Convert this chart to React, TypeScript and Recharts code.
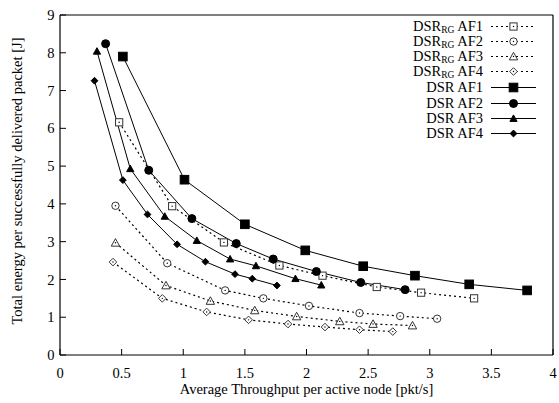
import React from "react";
import { LineChart, Line, XAxis, YAxis } from "recharts";

type Pair = [number, number];
type Shape = "square" | "circle" | "triangle" | "diamond";

const xTicks = [0, 0.5, 1, 1.5, 2, 2.5, 3, 3.5, 4];
const yTicks = [0, 1, 2, 3, 4, 5, 6, 7, 8, 9];

// DSR_RG (dotted, open markers)
const dsrRgAf1: Pair[] = [[0.48, 6.16], [0.91, 3.94], [1.33, 2.98], [1.78, 2.37], [2.13, 2.1], [2.57, 1.8], [2.93, 1.65], [3.36, 1.5]];
const dsrRgAf2: Pair[] = [[0.45, 3.95], [0.87, 2.43], [1.34, 1.71], [1.65, 1.5], [2.02, 1.3], [2.43, 1.11], [2.76, 1.03], [3.06, 0.96]];
const dsrRgAf3: Pair[] = [[0.45, 2.97], [0.86, 1.84], [1.22, 1.43], [1.58, 1.18], [1.92, 1.02], [2.27, 0.89], [2.54, 0.82], [2.86, 0.78]];
const dsrRgAf4: Pair[] = [[0.43, 2.46], [0.83, 1.5], [1.19, 1.14], [1.53, 0.93], [1.85, 0.82], [2.15, 0.74], [2.43, 0.67], [2.7, 0.62]];

// DSR (solid, filled markers)
const dsrAf1: Pair[] = [[0.51, 7.9], [1.01, 4.64], [1.5, 3.46], [1.99, 2.77], [2.46, 2.35], [2.88, 2.1], [3.32, 1.87], [3.79, 1.71]];
const dsrAf2: Pair[] = [[0.37, 8.24], [0.72, 4.89], [1.07, 3.61], [1.43, 2.95], [1.73, 2.54], [2.08, 2.21], [2.44, 1.92], [2.8, 1.73]];
const dsrAf3: Pair[] = [[0.3, 8.04], [0.57, 4.93], [0.85, 3.67], [1.11, 3.03], [1.38, 2.54], [1.59, 2.36], [1.91, 2.02], [2.12, 1.85]];
const dsrAf4: Pair[] = [[0.28, 7.26], [0.51, 4.63], [0.71, 3.72], [0.95, 2.93], [1.18, 2.47], [1.42, 2.14], [1.56, 2.02], [1.76, 1.84]];

type SeriesDef = {
  key: string;
  rg: boolean;
  af: string;
  data: Pair[];
  shape: Shape;
};

const series: SeriesDef[] = [
  { key: "rg1", rg: true, af: "AF1", data: dsrRgAf1, shape: "square" },
  { key: "rg2", rg: true, af: "AF2", data: dsrRgAf2, shape: "circle" },
  { key: "rg3", rg: true, af: "AF3", data: dsrRgAf3, shape: "triangle" },
  { key: "rg4", rg: true, af: "AF4", data: dsrRgAf4, shape: "diamond" },
  { key: "d1", rg: false, af: "AF1", data: dsrAf1, shape: "square" },
  { key: "d2", rg: false, af: "AF2", data: dsrAf2, shape: "circle" },
  { key: "d3", rg: false, af: "AF3", data: dsrAf3, shape: "triangle" },
  { key: "d4", rg: false, af: "AF4", data: dsrAf4, shape: "diamond" }
];

const font = "'Liberation Serif', 'DejaVu Serif', serif";

function Marker({ cx, cy, shape, filled }: { cx: number; cy: number; shape: Shape; filled: boolean }) {
  const fill = filled ? "#000" : "#fff";
  const stroke = filled ? "#000" : "#333";
  let body: React.ReactNode = null;
  if (shape === "square") {
    const s = filled ? 4.3 : 3.6;
    body = <rect x={cx - s} y={cy - s} width={2 * s} height={2 * s} fill={fill} stroke={stroke} strokeWidth={1} />;
  } else if (shape === "circle") {
    body = <circle cx={cx} cy={cy} r={filled ? 4 : 3.7} fill={fill} stroke={stroke} strokeWidth={1} />;
  } else if (shape === "triangle") {
    const s = filled ? 3.6 : 4.2;
    body = (
      <polygon
        points={`${cx},${cy - s} ${cx + s},${cy + s * 0.8} ${cx - s},${cy + s * 0.8}`}
        fill={fill}
        stroke={stroke}
        strokeWidth={1}
      />
    );
  } else {
    const s = filled ? 3.4 : 3.8;
    body = (
      <polygon
        points={`${cx},${cy - s} ${cx + s},${cy} ${cx},${cy + s} ${cx - s},${cy}`}
        fill={fill}
        stroke={stroke}
        strokeWidth={1}
      />
    );
  }
  return (
    <g>
      {body}
      {!filled && <circle cx={cx} cy={cy} r={0.7} fill="#000" />}
    </g>
  );
}

const tickStyle = { fill: "#000", fontSize: 14.5, fontFamily: font };

export default function App() {
  return (
    <div style={{ position: "fixed", left: 0, top: 0, width: 559, height: 403, background: "#fff", fontFamily: font }}>
      <LineChart width={559} height={403} margin={{ top: 10, right: 1, bottom: 0, left: 0 }} style={{ fontFamily: font }}>
        <XAxis
          xAxisId="b"
          type="number"
          dataKey="x"
          domain={[0, 4]}
          ticks={xTicks}
          orientation="bottom"
          height={48}
          tickSize={-6}
          tickMargin={19}
          tick={tickStyle}
          axisLine={{ stroke: "#000", strokeWidth: 1.2 }}
          tickLine={{ stroke: "#000" }}
          allowDataOverflow
          label={{
            content: () => (
              <text x={306.5} y={394} textAnchor="middle" fontSize={14.5} style={{ fontFamily: font }} fill="#000">
                Average Throughput per active node [pkt/s]
              </text>
            )
          }}
        />
        <XAxis
          xAxisId="t"
          type="number"
          dataKey="x"
          domain={[0, 4]}
          ticks={xTicks}
          orientation="top"
          height={5}
          tickSize={-6}
          tick={false}
          axisLine={{ stroke: "#000", strokeWidth: 1.2 }}
          tickLine={{ stroke: "#000" }}
          allowDataOverflow
        />
        <YAxis
          yAxisId="l"
          type="number"
          domain={[0, 9]}
          ticks={yTicks}
          width={60}
          tickSize={-6}
          tickMargin={11.5}
          tick={tickStyle}
          axisLine={{ stroke: "#000", strokeWidth: 1.2 }}
          tickLine={{ stroke: "#000" }}
          allowDataOverflow
          label={{
            content: () => (
              <text
                x={22}
                y={181}
                transform="rotate(-90 22 181)"
                textAnchor="middle"
                fontSize={14.5}
                style={{ fontFamily: font }}
                fill="#000"
              >
                Total energy per successfully delivered packet [J]
              </text>
            )
          }}
        />
        <YAxis
          yAxisId="r"
          type="number"
          orientation="right"
          domain={[0, 9]}
          ticks={yTicks}
          width={5}
          tickSize={-6}
          tick={false}
          axisLine={{ stroke: "#000", strokeWidth: 1.2 }}
          tickLine={{ stroke: "#000" }}
          allowDataOverflow
        />
        {series.map((s) => (
          <Line
            key={s.key}
            xAxisId="b"
            yAxisId="l"
            type="linear"
            data={s.data.map(([x, y]) => ({ x, y }))}
            dataKey="y"
            stroke="#000"
            strokeWidth={s.rg ? 1.2 : 1}
            strokeDasharray={s.rg ? "2 3" : undefined}
            isAnimationActive={false}
            dot={(p: any) => (
              <Marker key={`${s.key}-${p.index}`} cx={p.cx} cy={p.cy} shape={s.shape} filled={!s.rg} />
            )}
            activeDot={false}
          />
        ))}
      </LineChart>
      <div style={{ position: "absolute", left: 290, top: 19, width: 250 }}>
        {series.map((s, i) => (
          <div
            key={s.key}
            style={{
              display: "flex",
              justifyContent: "flex-end",
              alignItems: "center",
              height: 15.1,
              marginTop: i === 4 ? 1 : 0,
              overflow: "visible",
              fontSize: 14.5,
              lineHeight: "13px",
              color: "#000"
            }}
          >
            <span style={{ whiteSpace: "nowrap", lineHeight: "13px" }}>
              DSR
              {s.rg && <span style={{ fontSize: 9.5, lineHeight: "9px", position: "relative", top: 1.5 }}>RG</span>} {s.af}
            </span>
            <svg width={52} height={15} style={{ marginLeft: 5, display: "block" }}>
              <line x1={3} y1={7.5} x2={48} y2={7.5} stroke="#000" strokeWidth={s.rg ? 1.2 : 1} strokeDasharray={s.rg ? "2 3" : undefined} />
              <Marker cx={25.5} cy={7.5} shape={s.shape} filled={!s.rg} />
            </svg>
          </div>
        ))}
      </div>
    </div>
  );
}
